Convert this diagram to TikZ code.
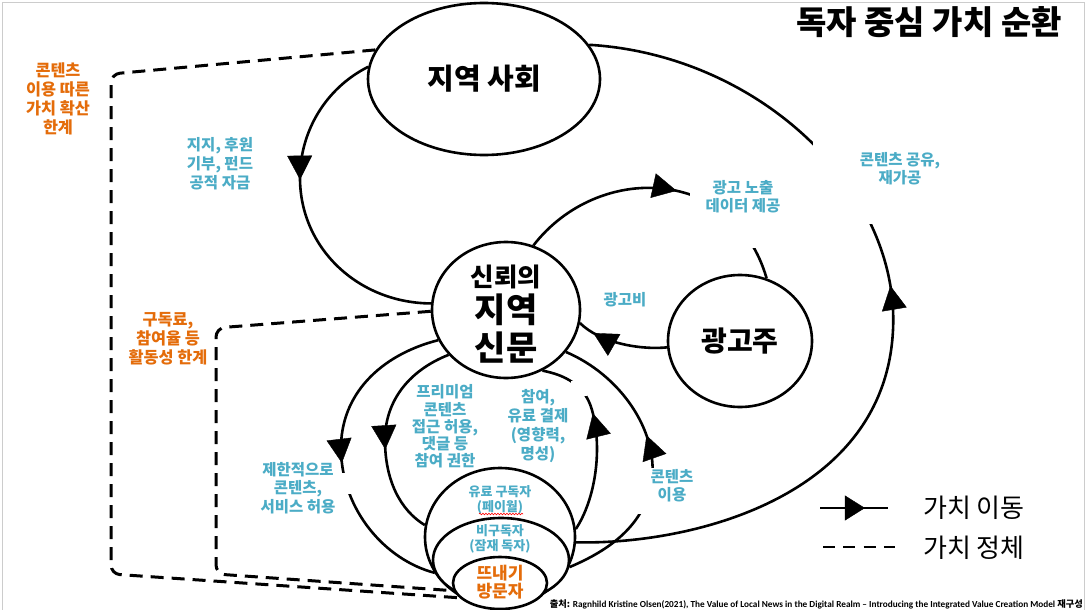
\documentclass[tikz,border=0pt]{standalone}
\usepackage{fontspec}
\usepackage{graphicx}
\setmainfont{Noto Sans CJK KR}
\newfontfamily\carl{Carlito}
\usetikzlibrary{arrows.meta,decorations.markings,decorations.pathmorphing,shapes.geometric}
\definecolor{tealc}{RGB}{75,172,198}
\definecolor{orangec}{RGB}{228,108,10}
\begin{document}
\begin{tikzpicture}[x=1pt,y=-1pt,
  bub/.style={ellipse,draw,line width=2.6pt,fill=white,inner sep=0pt},
  flow/.style={line width=2.6pt, postaction={decorate},
    decoration={markings, mark=at position #1 with {\arrow{Triangle[length=24pt,width=25pt,line width=0.4pt]}}}},
  lflow/.style={line width=2.7pt, postaction={decorate},
    decoration={markings, mark=at position #1 with {\arrow{Triangle[length=20pt,width=25pt,line width=0.4pt]}}}},
  stall/.style={line width=3pt, dash pattern=on 13pt off 8pt},
  tl/.style={text=tealc, font=\bfseries\fontsize{15.5}{18}\selectfont, align=center, inner sep=0pt},
  ol/.style={text=orangec, font=\bfseries\fontsize{16.3}{19}\selectfont, align=center, inner sep=0pt},
  cover/.style={fill=white}
]
\useasboundingbox (0,0) rectangle (1087,610);
\fill[white] (0,0) rectangle (1087,610);
\draw[black!20, line width=1pt] (2,615) -- (2,2.5) -- (1084,2.5) -- (1084,615);

% main bubbles
\node[bub, minimum width=232pt, minimum height=152pt, font=\bfseries\fontsize{29}{34}\selectfont] (ss) at (484,79) {지역 사회};
\node[bub, minimum width=148pt, minimum height=136pt] (np) at (506,310) {};
\node[bub, minimum width=144pt, minimum height=132pt, font=\bfseries\fontsize{28}{33}\selectfont] (ad) at (740,341) {광고주};
\node[bub, minimum width=150pt, minimum height=138pt] (r1) at (500,537) {};
\node[bub, minimum width=136pt, minimum height=84pt] (r2) at (501,560) {};
\node[bub, minimum width=94pt, minimum height=52pt] (r3) at (500,583) {};

\node[inner sep=0pt, font=\bfseries\fontsize{25.5}{30}\selectfont] (npa) at (506,277) {신뢰의};
\node[inner sep=0pt, font=\bfseries\fontsize{34}{40}\selectfont] (npb) at (506,310) {지역};
\node[inner sep=0pt, font=\bfseries\fontsize{34}{40}\selectfont] (npc) at (506,348) {신문};

% value flows
\draw[flow=0.41] (ss.174) .. controls (326,88) and (300,131) .. (300,178) .. controls (300,248) and (358,303) .. (np.175);
\draw[flow=0.53] (r1.356) .. controls (690,545) and (885,498) .. (893,330) .. controls (900,190) and (760,55) .. (ss.18);
\draw[flow=0.55] (np.67) .. controls (598,162) and (734,166) .. (ad.67);
\draw[flow=0.82] (ad.185) .. controls (640,350) and (600,343) .. (np.350);
\draw[flow=0.53] (np.204) .. controls (380,355) and (340,395) .. (341,450) .. controls (342,510) and (385,560) .. (r2.191);
\draw[flow=0.58] (np.218) .. controls (410,370) and (385,400) .. (385,440) .. controls (385,480) and (400,510) .. (r1.171);
\draw[flow=0.63] (r1.6) .. controls (595,500) and (603,450) .. (592,410) .. controls (585,385) and (565,375) .. (np.301);
\draw[flow=0.59] (r2.354) .. controls (610,550) and (645,525) .. (652,480) .. controls (658,430) and (620,375) .. (np.325);

% value stalls
\draw[stall, rounded corners=9pt] (ss.165) -- (111,74) -- (111,574) -- (r3.200);
\draw[stall, rounded corners=9pt] (np.181) -- (216,328) -- (216,574) -- (r2.212);

% label backgrounds
\fill[cover] (813,137) rectangle (879,224);
\fill[cover] (690,172) rectangle (800,248);
\fill[cover] (333,473) rectangle (353,494);
\fill[cover] (632,468) rectangle (662,514);
\fill[cover] (571,381) rectangle (587,396);

% labels
\node[ol] (o1) at (58,98.5) {콘텐츠\\이용 따른\\가치 확산\\한계};
\node[ol] (o2) at (168,338.5) {구독료,\\참여율 등\\활동성 한계};
\node[tl, font=\bfseries\fontsize{15.5}{19}\selectfont] (t1) at (220,164) {지지, 후원\\기부, 펀드\\공적 자금};
\node[tl] (t2) at (743,197) {광고 노출\\데이터 제공};
\node[tl] (t3) at (900,169) {콘텐츠 공유,\\재가공};
\node[tl] (t4) at (625,300) {광고비};
\node[tl, font=\bfseries\fontsize{15.5}{17.3}\selectfont] (t5) at (445,426.5) {프리미엄\\콘텐츠\\접근 허용,\\댓글 등\\참여 권한};
\node[tl, font=\bfseries\fontsize{15.5}{19.3}\selectfont] (t6) at (538,426) {참여,\\유료 결제\\(영향력,\\명성)};
\node[tl, font=\bfseries\fontsize{15.5}{18.5}\selectfont] (t7) at (298,488) {제한적으로\\콘텐츠,\\서비스 허용};
\node[tl] (t8) at (672,486) {콘텐츠\\이용};
\node[tl, font=\bfseries\fontsize{13}{15}\selectfont] (t9) at (500,499.5) {유료 구독자\\(페이월)};
\draw[red, line width=0.6pt, decorate, decoration={snake, amplitude=0.8pt, segment length=3pt}] (479,514) -- (523,514);
\node[tl, font=\bfseries\fontsize{13}{15.5}\selectfont] (t10) at (500,539) {비구독자\\(잠재 독자)};
\node[ol, font=\bfseries\fontsize{17}{18.5}\selectfont] (o3) at (500,582) {뜨내기\\방문자};

% title
\node[inner sep=0pt, font=\bfseries\fontsize{33}{38}\selectfont] (title) at (929,22) {독자 중심 가치 순환};

% legend
\coordinate (la) at (820,508);
\coordinate (lb) at (888,508);
\draw[lflow=0.66] (la) -- (lb);
\coordinate (lc) at (823,547);
\coordinate (ld) at (895,547);
\draw[line width=2.8pt, dash pattern=on 12pt off 8.3pt] (lc) -- (ld);
\node[anchor=west, inner sep=0pt, font=\fontsize{26}{30}\selectfont] (lt1) at (923,508) {가치 이동};
\node[anchor=west, inner sep=0pt, font=\fontsize{26}{30}\selectfont] (lt2) at (923,548) {가치 정체};

% source
\node[anchor=east, inner sep=0pt] (src) at (1083,604) {\resizebox{533pt}{!}{\bfseries 출처: {\carl Ragnhild Kristine Olsen(2021), The Value of Local News in the Digital Realm – Introducing the Integrated Value Creation Model} 재구성}};
\end{tikzpicture}
\end{document}
